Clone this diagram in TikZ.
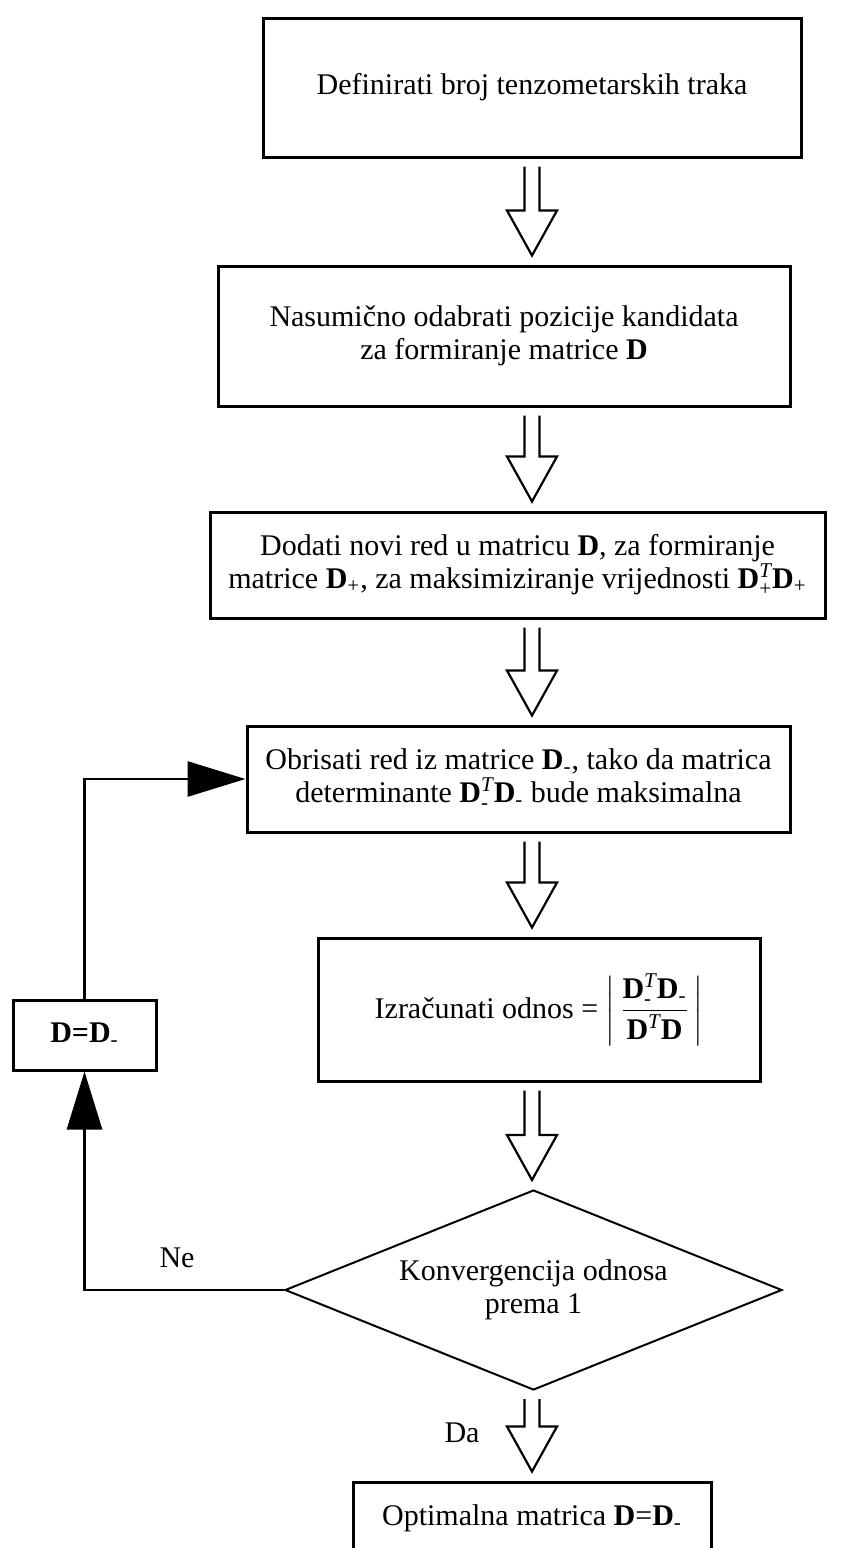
\documentclass[tikz,border=0pt]{standalone}
\usepackage{amsmath}
\usepackage{fontspec}
\setmainfont{Liberation Serif}
\usepackage{tikz}
\usetikzlibrary{arrows.meta,calc,positioning,shapes.geometric}

\newcommand{\Dm}{\ensuremath{\textbf{D}_{\text{-}}}}
\newcommand{\Dp}{\ensuremath{\textbf{D}_{\text{+}}}}
\newcommand{\DT}[1]{\ensuremath{\textbf{D}^{\textit{T}}_{\text{#1}}}}
% hollow double-line arrow from one box down to the next
\newcommand{\hollowarrow}[2]{%
  \draw[line width=1.1pt] let \p1=(#1.south), \p2=(#2.north), \p3=(spine) in
    (\x3-3.75pt,\y1-4pt) -- (\x3-3.75pt,\y2+27pt) -- (\x3-12.5pt,\y2+27pt) -- (\x3,\y2+4.5pt)
    -- (\x3+12.5pt,\y2+27pt) -- (\x3+3.75pt,\y2+27pt) -- (\x3+3.75pt,\y1-4pt);}

\tikzset{
  txt/.style={font=\fontsize{15}{16.5}\selectfont, align=center},
  procbox/.style={txt, draw, line width=1.5pt, inner sep=0pt},
  decision/.style={txt, draw, diamond, aspect=2.5, line width=1pt, inner sep=0pt},
  loopline/.style={line width=1.4pt, -{Triangle[length=29pt,width=17.5pt]}}
}

\begin{document}
\begin{tikzpicture}[x=0.5pt,y=-0.5pt]
  \useasboundingbox (0,0) rectangle (843,1548);

  \node[procbox, minimum width=269pt, minimum height=69.5pt] (define) at (532,87.5)
    {Definirati broj tenzometarskih traka};
  \node[procbox, minimum width=286pt, minimum height=70pt] (pick) at (504,336)
    {Nasumično odabrati pozicije kandidata\\za formiranje matrice \textbf{D}};
  \node[procbox, minimum width=307.5pt, minimum height=53pt] (addrow) at (517.5,565)
    {Dodati novi red u matricu \textbf{D}, za formiranje\\matrice \Dp, za maksimiziranje vrijednosti \DT{+}\Dp};
  \node[procbox, minimum width=271.5pt, minimum height=53pt] (delrow) at (518.5,779)
    {Obrisati red iz matrice \Dm, tako da matrica\\determinante \DT{-}\Dm{} bude maksimalna};
  \node[procbox, minimum width=221pt, minimum height=71.5pt] (ratio) at (539,1009.5)
    {Izračunati odnos = $\left|\,\dfrac{\DT{-}\Dm}{\textbf{D}^{\textit{T}}\textbf{D}}\,\right|$};
  \node[decision, minimum width=248.5pt, minimum height=100pt] (conv) at (533.5,1290)
    {Konvergencija odnosa\\prema 1};
  \node[procbox, minimum width=179pt, minimum height=36pt] (optimal) at (532,1518)
    {Optimalna matrica \textbf{D}=\Dm};
  \node[procbox, minimum width=71.5pt, minimum height=35pt] (update) at (84.5,1035)
    {\textbf{D=D}\textsubscript{-}};

  \coordinate (spine) at (532,0);
  \hollowarrow{define}{pick}
  \hollowarrow{pick}{addrow}
  \hollowarrow{addrow}{delrow}
  \hollowarrow{delrow}{ratio}
  \hollowarrow{ratio}{conv}
  \hollowarrow{conv}{optimal}

  % loop back
  \draw[loopline] (conv.west) -| (update.south);
  \draw[loopline] (update.north) |- (delrow.west);
  \node[txt] (no) at (177,1258) {Ne};
  \node[txt] (yes) at (462,1433) {Da};
\end{tikzpicture}
\end{document}
